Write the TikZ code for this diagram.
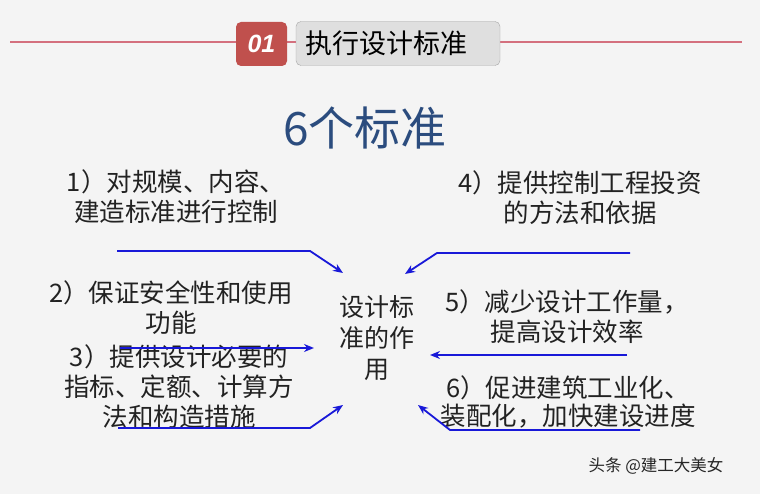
\documentclass[tikz,border=0pt]{standalone}
\usepackage{fontspec}
\setmainfont{Noto Sans CJK SC}
\newfontfamily\numfont{Liberation Sans}
\usetikzlibrary{arrows.meta}
\definecolor{bgray}{HTML}{F4F4F4}
\definecolor{headred}{HTML}{C0504D}
\definecolor{linered}{HTML}{D4707E}
\definecolor{titleblue}{HTML}{2B4C7E}
\definecolor{arrowblue}{HTML}{1818D8}
\definecolor{txtgray}{HTML}{222222}
\tikzset{
  item/.style={align=center, text=txtgray, font=\fontsize{25.5}{30}\selectfont},
  link/.style={arrowblue, line width=1.8pt, -{Stealth[length=10pt,width=8pt]}},
}
\begin{document}
\begin{tikzpicture}[x=1pt, y=-1pt]
\useasboundingbox[fill=bgray] (0,0) rectangle (760,494);
% header bar
\coordinate (hl) at (10,42);
\coordinate (hr) at (742,42);
\draw[linered, line width=1.5pt] (hl) -- (hr);
\node (num) [fill=headred, rounded corners=5pt, minimum width=51pt, minimum height=44pt,
  text=white, font=\numfont\bfseries\itshape\fontsize{25}{25}\selectfont] at (261.5,44) {01};
\node (head) [fill=gray!25, draw=gray!70, rounded corners=5pt, minimum width=204pt, minimum height=44pt] at (398,43.5) {};
\node (headtext) [font=\fontsize{27}{27}\selectfont, text=black] at (386,43) {执行设计标准};
% title
\node (title) [text=titleblue, font=\fontsize{46}{46}\selectfont] at (365,128) {6个标准};
% centre
\node (core) [item, font=\fontsize{25}{31}\selectfont] at (377,338) {设计标\\准的作\\用};
% left items
\node (s1) [item] at (176,197) {1）对规模、内容、\\建造标准进行控制};
\node (s2) [item] at (171,308) {2）保证安全性和使用\\功能};
\node (s3) [item] at (179,387) {3）提供设计必要的\\指标、定额、计算方\\法和构造措施};
% right items
\node (s4) [item] at (580,198) {4）提供控制工程投资\\的方法和依据};
\node (s5) [item] at (567,317) {5）减少设计工作量，\\提高设计效率};
\node (s6) [item, font=\fontsize{25.5}{28}\selectfont] at (568,402) {6）促进建筑工业化、\\装配化，加快建设进度};
% arrows
\coordinate (a1s) at (117,251); \coordinate (a1b) at (310,251); \coordinate (a1e) at (343,273);
\coordinate (a2s) at (120,348); \coordinate (a2e) at (314,348);
\coordinate (a3s) at (118,428); \coordinate (a3b) at (310,428); \coordinate (a3e) at (343,405);
\coordinate (a4s) at (630,253); \coordinate (a4b) at (437,253); \coordinate (a4e) at (405,274);
\coordinate (a5s) at (627,355); \coordinate (a5e) at (430,355);
\coordinate (a6s) at (640,430); \coordinate (a6b) at (450,430); \coordinate (a6e) at (418,405);
\draw[link] (a1s) -- (a1b) -- (a1e);
\draw[link] (a2s) -- (a2e);
\draw[link] (a3s) -- (a3b) -- (a3e);
\draw[link] (a4s) -- (a4b) -- (a4e);
\draw[link] (a5s) -- (a5e);
\draw[link] (a6s) -- (a6b) -- (a6e);
% watermark
\node (mark) [text=black!85, font=\fontsize{16.5}{16.5}\selectfont] at (656,466) {头条 @建工大美女};
\end{tikzpicture}
\end{document}
